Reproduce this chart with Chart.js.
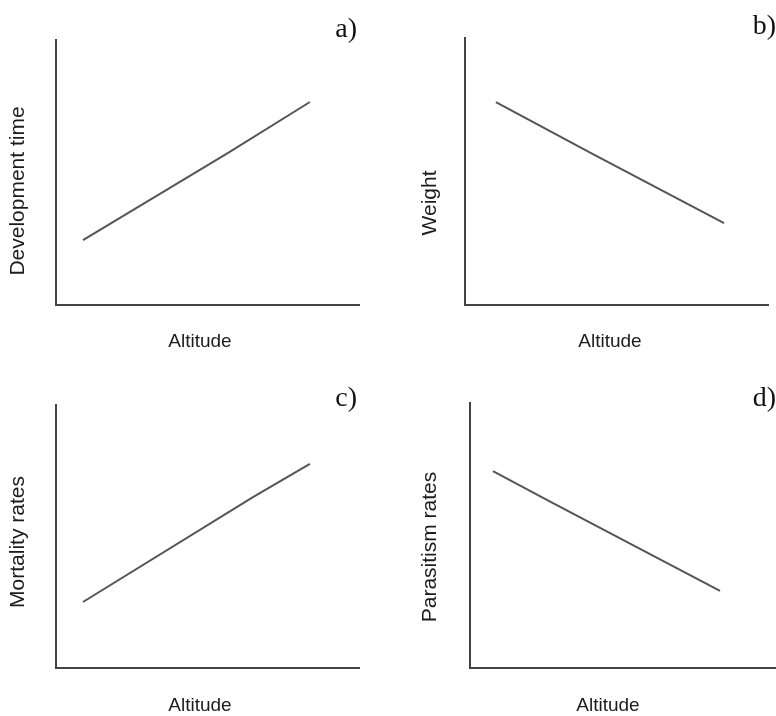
<!DOCTYPE html>
<html>
<head>
<meta charset="utf-8">
<script src="https://cdn.jsdelivr.net/npm/chart.js@4/dist/chart.umd.min.js"></script>
<style>
  html, body { margin: 0; padding: 0; background: #ffffff; }
  #wrap { position: relative; width: 776px; height: 716px; overflow: hidden; }
  .panel { position: absolute; width: 388px; height: 358px; }
</style>
</head>
<body>
<div id="wrap">
  <div class="panel" style="left:0;top:0"><canvas id="panelA"></canvas></div>
  <div class="panel" style="left:388px;top:0"><canvas id="panelB"></canvas></div>
  <div class="panel" style="left:0;top:358px"><canvas id="panelC"></canvas></div>
  <div class="panel" style="left:388px;top:358px"><canvas id="panelD"></canvas></div>
</div>
<script>
// Conceptual trends along an altitude gradient (relative units, 0–100 on both axes)
const altitudeA = [8.9, 56.8, 83.8];
const developmentTime = [24.5, 57.4, 76.6];

const altitudeB = [10.2, 41.6, 85.5];
const weight = [76.0, 56.9, 30.7];

const altitudeC = [8.9, 65.0, 83.8];
const mortalityRates = [25.1, 65.0, 77.6];

const altitudeD = [7.5, 26.5, 81.7];
const parasitismRates = [74.3, 62.6, 29.1];

const panelTags = ['a)', 'b)', 'c)', 'd)'];
const yTitles = ['Development time', 'Weight', 'Mortality rates', 'Parasitism rates'];
const xTitle = 'Altitude';

// Plot-area placement and text anchors for each panel (canvas pixels)
const panelLayout = [
  { pad: { left: 56, top: 40, right: 29, bottom: 53 }, yT: [18, 191], xT: [200, 342], tag: [357, 30] },
  { pad: { left: 77, top: 38, right: 8,  bottom: 53 }, yT: [42, 203], xT: [222, 342], tag: [388, 27] },
  { pad: { left: 56, top: 47, right: 29, bottom: 48 }, yT: [18, 184], xT: [200, 348], tag: [357, 41] },
  { pad: { left: 82, top: 45, right: 0,  bottom: 48 }, yT: [42, 189], xT: [220, 348], tag: [388, 41] }
];

const seriesX = [altitudeA, altitudeB, altitudeC, altitudeD];
const seriesY = [developmentTime, weight, mortalityRates, parasitismRates];
const canvasIds = ['panelA', 'panelB', 'panelC', 'panelD'];

// Axis titles and the panel letter
const panelText = {
  id: 'panelText',
  afterDraw(chart, args, opts) {
    const ctx = chart.ctx;
    ctx.save();
    ctx.fillStyle = '#1c1c1c';
    ctx.textAlign = 'center';
    ctx.textBaseline = 'middle';
    ctx.font = '19px "Liberation Sans", Arial, sans-serif';
    ctx.fillText(opts.xTitle, opts.xT[0], opts.xT[1]);

    ctx.save();
    ctx.font = '21px "Liberation Sans", Arial, sans-serif';
    ctx.translate(opts.yT[0], opts.yT[1]);
    ctx.rotate(-Math.PI / 2);
    ctx.fillText(opts.yTitle, 0, 0);
    ctx.restore();

    ctx.fillStyle = '#111111';
    ctx.font = '28px "Liberation Serif", "Times New Roman", serif';
    ctx.textAlign = 'right';
    ctx.fillText(opts.tag, opts.tagPos[0], opts.tagPos[1]);
    ctx.restore();
  }
};

canvasIds.forEach((id, i) => {
  const lay = panelLayout[i];
  const points = seriesX[i].map((x, k) => ({ x: x, y: seriesY[i][k] }));
  new Chart(document.getElementById(id), {
    type: 'line',
    data: {
      datasets: [{
        label: yTitles[i],
        data: points,
        borderColor: '#555555',
        borderWidth: 2,
        pointRadius: 0,
        tension: 0,
        fill: false
      }]
    },
    options: {
      responsive: true,
      maintainAspectRatio: false,
      animation: false,
      events: [],
      layout: { padding: lay.pad },
      scales: {
        x: {
          type: 'linear',
          min: 0,
          max: 100,
          ticks: { display: false },
          grid: { display: false },
          border: { display: true, color: '#444444', width: 2 },
          afterFit(scale) { scale.height = 0; }
        },
        y: {
          type: 'linear',
          min: 0,
          max: 100,
          ticks: { display: false },
          grid: { display: false },
          border: { display: true, color: '#444444', width: 2 },
          afterFit(scale) { scale.width = 0; }
        }
      },
      plugins: {
        legend: { display: false },
        tooltip: { enabled: false },
        panelText: {
          xTitle: xTitle,
          yTitle: yTitles[i],
          tag: panelTags[i],
          xT: lay.xT,
          yT: lay.yT,
          tagPos: lay.tag
        }
      }
    },
    plugins: [panelText]
  });
});
</script>
</body>
</html>
